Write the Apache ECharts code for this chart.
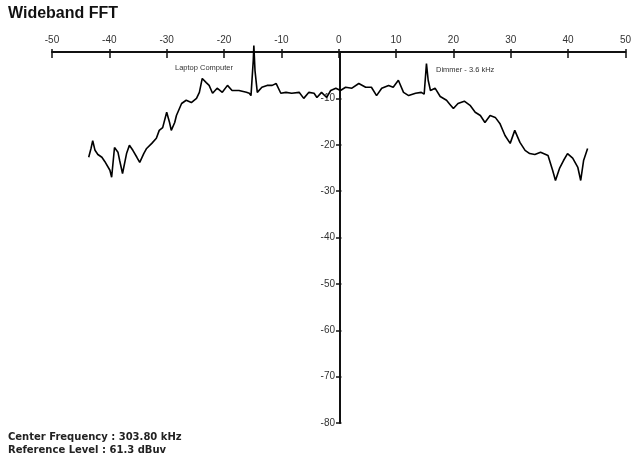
<!DOCTYPE html>
<html>
<head>
    <meta charset="utf-8">
    <title>Wideband FFT</title>
    <script src="https://cdn.jsdelivr.net/npm/echarts@6/dist/echarts.min.js"></script>
</head>
<body style="margin:0;padding:0;background:#fff;">
<div id="main" style="margin:0px;padding:0px;width:634px;height:460px;"></div>
<script type="text/javascript">
    // frequency offset (kHz) and level (dB)
    var freqs = [-43.6, -43.2, -42.9, -42.5, -42.0, -41.3, -40.8, -40.5, -39.9, -39.6,
        -39.1, -38.5, -38.2, -37.7, -37.0, -36.5, -35.9, -35.2, -34.7, -34.0,
        -33.5, -32.6, -31.8, -31.3, -30.7, -30.0, -29.5, -29.2, -28.6, -28.3,
        -27.4, -26.6, -25.7, -24.8, -24.3, -23.8, -23.1, -22.6, -22.0, -21.2,
        -20.3, -19.4, -18.6, -17.4, -16.1, -15.6, -15.3, -14.9, -14.8, -14.6,
        -14.2, -13.4, -12.5, -11.6, -10.9, -10.1, -9.2, -8.2, -6.9, -6.1,
        -5.2, -4.3, -3.8, -3.0, -2.1, -1.4, -0.5, 0.3, 1.2, 2.3,
        3.5, 4.7, 5.7, 6.6, 7.5, 8.7, 9.5, 10.4, 11.3, 12.2,
        13.4, 14.4, 14.9, 15.3, 15.6, 16.0, 16.8, 17.7, 18.8, 19.4,
        20.0, 20.8, 21.9, 22.9, 23.8, 24.7, 25.5, 26.4, 27.3, 28.1,
        29.0, 29.9, 30.7, 31.6, 32.5, 33.3, 34.2, 35.2, 36.5, 37.3,
        37.8, 38.5, 39.2, 39.9, 40.8, 41.7, 42.2, 42.7, 43.4];
    var levels = [-22.7, -20.8, -19.1, -21.2, -22.1, -22.7, -23.6, -24.0, -25.5, -27.0,
        -20.6, -21.6, -23.4, -26.2, -21.9, -20.1, -21.2, -22.7, -23.8, -21.9,
        -20.8, -19.7, -18.6, -16.9, -16.3, -13.0, -15.2, -16.9, -15.2, -13.7,
        -11.1, -10.4, -10.9, -10.0, -8.7, -5.7, -6.6, -7.2, -8.9, -7.8,
        -8.7, -7.2, -8.3, -8.3, -8.7, -8.9, -9.4, -1.8, 1.4, -4.0,
        -8.7, -7.6, -7.2, -7.2, -6.8, -8.9, -8.7, -8.9, -8.7, -10.0,
        -8.7, -8.9, -9.8, -8.7, -9.8, -8.3, -7.8, -8.3, -7.6, -7.8,
        -6.8, -7.6, -7.6, -9.4, -7.8, -7.2, -7.6, -6.1, -8.7, -9.4,
        -8.9, -8.7, -9.1, -2.5, -6.1, -8.3, -7.8, -9.6, -10.4, -11.3,
        -12.2, -11.1, -10.6, -11.5, -13.0, -13.7, -15.2, -13.7, -14.1, -15.4,
        -18.0, -19.7, -16.9, -19.5, -21.2, -21.9, -22.1, -21.6, -22.3, -25.5,
        -27.7, -25.1, -23.4, -21.9, -22.9, -24.9, -27.7, -23.4, -20.8];

    var xTicks = [-50, -40, -30, -20, -10, 0, 10, 20, 30, 40, 50];
    var yTicks = [-80, -70, -60, -50, -40, -30, -20, -10, 0];

    var trace = [];
    for (var i = 0; i < freqs.length; i++) {
        trace.push([freqs[i], levels[i]]);
    }

    var myChart = echarts.init(document.getElementById('main'));
    var axisColor = '#111';
    var labelFont = {color: '#333', fontSize: 10, fontFamily: 'Liberation Sans'};

    // grid box: x -50..50 -> 52..628, y 0..-80 -> 52..423
    var gLeft = 52, gRight = 6, gTop = 52, gBottom = 37;
    var plotW = 634 - gLeft - gRight;
    var plotH = 460 - gTop - gBottom;
    // the y axis sits at x = 0, in the middle of the box
    var yOff = -plotW / 2;

    var option = {
        backgroundColor: '#fff',
        animation: false,
        grid: {left: gLeft, right: gRight, top: gTop, bottom: gBottom},
        xAxis: [{
            type: 'value', position: 'top',
            min: xTicks[0], max: xTicks[xTicks.length - 1], interval: 10,
            axisLine: {onZero: false, lineStyle: {color: axisColor, width: 2}},
            axisTick: {inside: true, length: 6, lineStyle: {color: axisColor, width: 1.5}},
            axisLabel: Object.assign({margin: 7}, labelFont),
            splitLine: {show: false}
        }, {
            // upper half of the crossing ticks
            type: 'value', position: 'bottom', offset: -plotH,
            min: xTicks[0], max: xTicks[xTicks.length - 1], interval: 10,
            axisLine: {show: false, onZero: false},
            axisTick: {inside: true, length: 3, lineStyle: {color: axisColor, width: 1.5}},
            axisLabel: {show: false},
            splitLine: {show: false}
        }],
        yAxis: [{
            type: 'value', position: 'left', offset: yOff,
            min: yTicks[0], max: yTicks[yTicks.length - 1], interval: 10,
            axisLine: {onZero: false, lineStyle: {color: axisColor, width: 2}},
            axisTick: {length: 4, lineStyle: {color: axisColor, width: 1.5}},
            axisLabel: Object.assign({
                margin: 5,
                formatter: function (v) { return v === 0 ? '' : v; }
            }, labelFont),
            splitLine: {show: false}
        }, {
            type: 'value', position: 'right', offset: yOff,
            min: yTicks[0], max: yTicks[yTicks.length - 1], interval: 10,
            axisLine: {show: false, onZero: false},
            axisTick: {length: 4, lineStyle: {color: axisColor, width: 1.5}},
            axisLabel: {show: false},
            splitLine: {show: false}
        }],
        graphic: [
            {type: 'text', left: 8, top: 6,
                style: {text: 'Wideband FFT', fill: '#111', font: 'bold 16px "Liberation Sans"'}},
            {type: 'text', left: 175, top: 64,
                style: {text: 'Laptop Computer', fill: '#333', font: '7.5px "Liberation Sans"'}},
            {type: 'text', left: 436, top: 66,
                style: {text: 'Dimmer - 3.6 kHz', fill: '#333', font: '7.5px "Liberation Sans"'}},
            {type: 'text', left: 8, top: 432,
                style: {text: 'Center Frequency : 303.80 kHz', fill: '#222', font: 'bold 10px "DejaVu Sans"'}},
            {type: 'text', left: 8, top: 445,
                style: {text: 'Reference Level : 61.3 dBuv', fill: '#222', font: 'bold 10px "DejaVu Sans"'}}
        ],
        series: [{
            type: 'line',
            data: trace,
            showSymbol: false,
            clip: false,
            lineStyle: {color: '#000', width: 1.6},
            z: 5
        }]
    };

    myChart.setOption(option);
</script>
</body>
</html>
